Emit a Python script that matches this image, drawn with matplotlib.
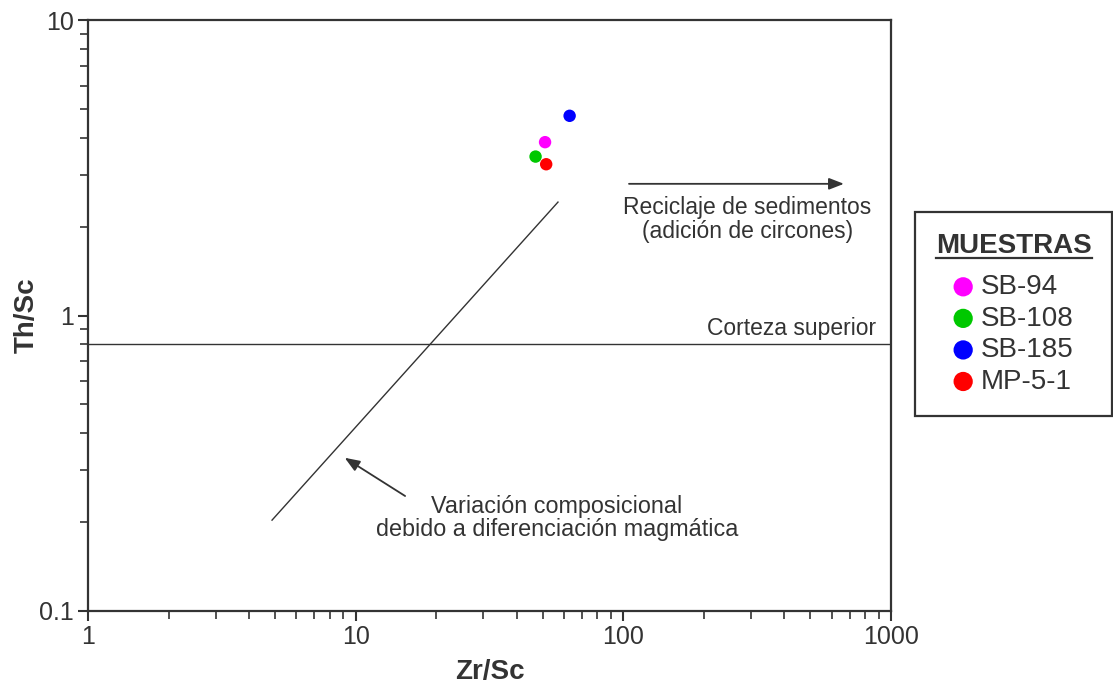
import matplotlib
matplotlib.use("Agg")
import matplotlib.pyplot as plt
from matplotlib.lines import Line2D

plt.rcParams['font.family'] = ['Liberation Sans', 'DejaVu Sans']

# Sample ratios
samples = ["SB-94", "SB-108", "SB-185", "MP-5-1"]
zr_sc = [51.0, 47.0, 63.0, 51.5]
th_sc = [3.86, 3.45, 4.74, 3.25]
colors = ["#ff00ff", "#00c800", "#0000ff", "#ff0000"]

# Reference lines
upper_crust_th_sc = 0.8
magmatic_trend_x = [4.87, 57.0]
magmatic_trend_y = [0.203, 2.42]

# Arrow annotations (tail -> head)
recycling_arrow_x = [105.0, 667.0]
recycling_arrow_y = [2.79, 2.79]
magmatic_arrow_x = [15.3, 9.1]
magmatic_arrow_y = [0.245, 0.33]

ink = "#333333"

fig = plt.figure(figsize=(11.13, 6.88), dpi=100)
ax = fig.add_axes([88 / 1113, 1 - 611 / 688, (891 - 88) / 1113, (611 - 20) / 688])
ax.set_xscale("log")
ax.set_yscale("log")
ax.set_xlim(1, 1000)
ax.set_ylim(0.1, 10)

for sp in ax.spines.values():
    sp.set_linewidth(1.6)
    sp.set_color(ink)

ax.set_xticks([1, 10, 100, 1000])
ax.set_xticklabels(["1", "10", "100", "1000"])
ax.set_yticks([0.1, 1, 10])
ax.set_yticklabels(["0.1", "1", "10"])
ax.tick_params(which="major", direction="out", length=7, width=1.5, color=ink,
               labelsize=18, labelcolor=ink, pad=3, top=False, right=False)
ax.tick_params(which="minor", direction="out", length=6, width=1.2, color=ink,
               top=False, right=False)

ax.set_xlabel("Zr/Sc", fontsize=20, fontweight="bold", color=ink, labelpad=7)
ax.set_ylabel("Th/Sc", fontsize=20, fontweight="bold", color=ink, labelpad=0)

# Upper continental crust reference
ax.axhline(upper_crust_th_sc, color=ink, lw=1.0)
ax.text(878, upper_crust_th_sc * 1.035, "Corteza superior", ha="right", va="bottom",
        fontsize=16.5, color=ink)

# Magmatic differentiation trend
ax.plot(magmatic_trend_x, magmatic_trend_y, color=ink, lw=1.0)

arrow_kw = dict(arrowstyle="-|>,head_length=0.9,head_width=0.35", color=ink, lw=1.3,
                shrinkA=0, shrinkB=0)
ax.annotate("", xy=(recycling_arrow_x[1], recycling_arrow_y[1]),
            xytext=(recycling_arrow_x[0], recycling_arrow_y[0]), arrowprops=arrow_kw)
ax.annotate("", xy=(magmatic_arrow_x[1], magmatic_arrow_y[1]),
            xytext=(magmatic_arrow_x[0], magmatic_arrow_y[0]), arrowprops=arrow_kw)

ax.text(0.821, 0.663, "Reciclaje de sedimentos\n(adición de circones)", transform=ax.transAxes,
        ha="center", va="center", fontsize=16.5, color=ink, linespacing=1.05)
ax.text(0.584, 0.157, "Variación composicional\ndebido a diferenciación magmática",
        transform=ax.transAxes, ha="center", va="center", fontsize=16.8, color=ink,
        linespacing=1.0)

handles = []
for name, x, y, c in zip(samples, zr_sc, th_sc, colors):
    h = ax.scatter([x], [y], s=80, color=c, edgecolors="none", zorder=5, label=name)
    handles.append(h)

leg = fig.legend(handles=handles, labels=samples, loc="upper left",
                 bbox_to_anchor=(915 / 1113, 1 - 212 / 688), frameon=True,
                 fancybox=False, edgecolor=ink, framealpha=1, fontsize=20,
                 title="MUESTRAS", title_fontproperties={"weight": "bold", "size": 20},
                 markerscale=1.55, handlelength=0.7, handletextpad=0.3,
                 labelspacing=0.2, borderpad=0.75, borderaxespad=0)
leg.get_frame().set_linewidth(1.6)
leg._legend_box.align = "center"
leg._legend_box.sep = 11
for t in leg.get_texts():
    t.set_color(ink)
leg.get_title().set_color(ink)

# Underline the legend title
fig.canvas.draw()
bb = leg.get_title().get_window_extent()
inv = fig.transFigure.inverted()
(x0, y0), (x1, y1) = inv.transform([[bb.x0, bb.y0], [bb.x1, bb.y0]])
fig.add_artist(Line2D([x0, x1], [y0 + 0.001, y0 + 0.001], transform=fig.transFigure,
                      color=ink, lw=1.6, zorder=10))

fig.savefig("out.png", dpi=100, facecolor="white")
